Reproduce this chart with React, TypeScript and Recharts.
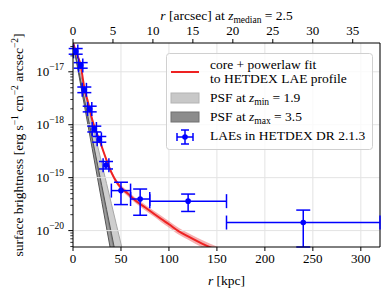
import React from "react";
import {
  ComposedChart,
  Line,
  Area,
  Scatter,
  ErrorBar,
  XAxis,
  YAxis,
  CartesianGrid,
  ReferenceLine,
} from "recharts";

const W = 390;
const H = 298;
const FONT = "'Liberation Serif', 'DejaVu Serif', serif";

// core + powerlaw fit, log10 of surface brightness, and half width of its band (dex)
const fitR = [0, 3, 6, 8, 10, 12, 15, 17.5, 20, 22, 25, 28, 32, 36, 40, 45, 50, 57, 65, 75, 85, 92, 100, 110, 120, 135, 150, 160];
const fitLogSB = [-16.45, -16.62, -16.76, -16.88, -17.1, -17.33, -17.53, -17.71, -17.9, -18.02, -18.17, -18.31, -18.52, -18.72, -18.9, -19.07, -19.19, -19.3, -19.43, -19.56, -19.69, -19.78, -19.88, -20.01, -20.11, -20.25, -20.37, -20.45];
const fitBand = [0.01, 0.01, 0.01, 0.015, 0.015, 0.02, 0.02, 0.02, 0.025, 0.025, 0.03, 0.03, 0.035, 0.035, 0.04, 0.04, 0.045, 0.05, 0.05, 0.055, 0.055, 0.06, 0.06, 0.065, 0.065, 0.07, 0.07, 0.07];

// PSF bands (log10 SB) at z_min = 1.9 and z_max = 3.5
const psfR = [0, 5, 10, 15, 20, 25, 30, 35, 40, 45, 50, 55];
const psfMinLo = [-16.45, -16.91, -17.37, -17.83, -18.29, -18.75, -19.21, -19.67, -20.13, -20.59, -21.05, -21.51];
const psfMinHi = [-16.45, -16.83, -17.21, -17.59, -17.97, -18.35, -18.73, -19.11, -19.49, -19.87, -20.25, -20.63];
const psfMaxLo = [-16.45, -16.95, -17.45, -17.95, -18.45, -18.95, -19.45, -19.95, -20.45, -20.95, -21.45, -21.95];
const psfMaxHi = [-16.45, -16.9, -17.35, -17.8, -18.25, -18.7, -19.15, -19.6, -20.05, -20.5, -20.95, -21.4];

// LAEs in HETDEX DR 2.1.3
const laeR = [2.8, 8, 11.8, 17.4, 22.2, 27.4, 34.4, 50, 70, 120, 240];
const laeRErr = [2.2, 2.2, 2.2, 2.2, 2.2, 2.2, 3, 10, 10, 40, 80];
const laeSB = [2.43e-17, 1.32e-17, 4.56e-18, 1.98e-18, 8.3e-19, 5.3e-19, 1.72e-19, 5.7e-20, 3.95e-20, 3.6e-20, 1.42e-20];
const laeSBLo = [2.8e-18, 1.5e-18, 5.2e-19, 2.3e-19, 1.0e-19, 6.2e-20, 2.6e-20, 2.6e-20, 2.0e-20, 1.3e-20, 9.3e-21];
const laeSBHi = [3.2e-18, 1.7e-18, 6.0e-19, 2.6e-19, 1.1e-19, 7.0e-20, 3.0e-20, 2.5e-20, 2.15e-20, 1.3e-20, 1.02e-20];

const xTicks = [0, 50, 100, 150, 200, 250, 300];
const arcsecTicks = [0, 5, 10, 15, 20, 25, 30, 35];
const kpcPerArcsec = 8.33;
const yMajor = [1e-20, 1e-19, 1e-18, 1e-17];
const yMinorMult = [2, 3, 4, 5, 6, 7, 8, 9];
const yDomain: [number, number] = [4.9e-21, 3.5e-17];

const pow10 = (v: number) => Math.pow(10, v);

const fitData = fitR.map((r, i) => ({
  r,
  sb: pow10(fitLogSB[i]),
  band: [pow10(fitLogSB[i] - fitBand[i]), pow10(fitLogSB[i] + fitBand[i])],
}));
// same fit on the arcsec scale, only so the top axis is drawn
const fitArcsec = fitData.map((d) => ({ r: d.r / kpcPerArcsec, sb: d.sb }));
const psfData = psfR.map((r, i) => ({
  r,
  zmin: [pow10(psfMinLo[i]), pow10(psfMinHi[i])],
  zmax: [pow10(psfMaxLo[i]), pow10(psfMaxHi[i])],
}));
const laeData = laeR.map((r, i) => ({
  r,
  sb: laeSB[i],
  rErr: laeRErr[i],
  sbErr: [laeSBLo[i], laeSBHi[i]],
}));

const yTicks = [
  ...yMajor,
  ...[1e-21, ...yMajor].flatMap((d) => yMinorMult.map((m) => m * d)),
].filter((v) => v >= yDomain[0] && v <= yDomain[1]);

const YTick = ({ x, y, payload }: any) => {
  const e = Math.log10(payload.value);
  const major = Math.abs(e - Math.round(e)) < 1e-6;
  const len = major ? 4.7 : 2.7;
  return (
    <g>
      <line x1={x - len} x2={x} y1={y} y2={y} stroke="#000" strokeWidth={major ? 1 : 0.8} />
      {major && (
        <text x={x - 9} y={y + 4.5} textAnchor="end" style={{ fontFamily: FONT }} fontSize={13} fill="#000">
          10
          <tspan dy={-6} fontSize={9.5}>
            {"\u2212" + -Math.round(e)}
          </tspan>
        </text>
      )}
    </g>
  );
};

const BottomTick = ({ x, y, payload }: any) => (
  <text x={x} y={y + 10} textAnchor="middle" style={{ fontFamily: FONT }} fontSize={13} fill="#000">
    {payload.value}
  </text>
);

const TopTick = ({ x, y, payload }: any) => (
  <text x={x} y={y} textAnchor="middle" style={{ fontFamily: FONT }} fontSize={13} fill="#000">
    {payload.value}
  </text>
);

const BottomLabel = ({ viewBox }: any) => (
  <text x={viewBox.x + viewBox.width / 2} y={viewBox.y + 38} textAnchor="middle" style={{ fontFamily: FONT }} fontSize={13.5} fill="#000">
    <tspan fontStyle="italic">r</tspan> [kpc]
  </text>
);

const TopLabel = ({ viewBox }: any) => (
  <text x={viewBox.x + viewBox.width / 2} y={viewBox.y + 19.5} textAnchor="middle" style={{ fontFamily: FONT }} fontSize={13.5} fill="#000">
    <tspan fontStyle="italic">r</tspan> [arcsec] at <tspan fontStyle="italic">z</tspan>
    <tspan dy={3} fontSize={9.5}>median</tspan>
    <tspan dy={-3}> = 2.5</tspan>
  </text>
);

const YLabel = ({ viewBox }: any) => {
  const cx = viewBox.x + 22.5;
  const cy = viewBox.y + viewBox.height / 2;
  return (
    <text x={cx} y={cy} transform={`rotate(-90 ${cx} ${cy})`} textAnchor="middle" style={{ fontFamily: FONT }} fontSize={13.5} fill="#000">
      surface brightness [erg s
      <tspan dy={-5} fontSize={9.5}>{"\u22121"}</tspan>
      <tspan dy={5}> cm</tspan>
      <tspan dy={-5} fontSize={9.5}>{"\u22122"}</tspan>
      <tspan dy={5}> arcsec</tspan>
      <tspan dy={-5} fontSize={9.5}>{"\u22122"}</tspan>
      <tspan dy={5}>]</tspan>
    </text>
  );
};

const LaeDot = (p: any) => <circle cx={p.cx} cy={p.cy} r={2.8} fill="#0000ff" />;

const Legend = () => (
  <svg width={W} height={H} style={{ position: "absolute", left: 0, top: 0, pointerEvents: "none" }}>
    <rect x={166.5} y={53.5} width={206} height={96} rx={3} fill="#fff" fillOpacity={0.8} stroke="#d0d0d0" />
    <line x1={171} x2={199} y1={72} y2={72} stroke="#ee2222" strokeWidth={2} />
    <rect x={171} y={93} width={28} height={10} fill="#c8c8c8" stroke="#b4b4b4" />
    <rect x={171} y={112} width={28} height={10} fill="#8c8c8c" stroke="#707070" />
    <g stroke="#0000ff" strokeWidth={1.5}>
      <line x1={177} x2={193} y1={137} y2={137} />
      <line x1={177} x2={177} y1={133} y2={141} />
      <line x1={193} x2={193} y1={133} y2={141} />
      <line x1={185} x2={185} y1={130} y2={144} />
      <line x1={181} x2={189} y1={130} y2={130} />
      <line x1={181} x2={189} y1={144} y2={144} />
    </g>
    <circle cx={185} cy={137} r={2.8} fill="#0000ff" />
    <g style={{ fontFamily: FONT }} fontSize={13.5} fill="#000">
      <text x={210} y={69}>core + powerlaw fit</text>
      <text x={210} y={83}>to HETDEX LAE profile</text>
      <text x={210} y={102}>
        PSF at <tspan fontStyle="italic">z</tspan>
        <tspan dy={3} fontSize={9.5}>min</tspan>
        <tspan dy={-3}> = 1.9</tspan>
      </text>
      <text x={210} y={121}>
        PSF at <tspan fontStyle="italic">z</tspan>
        <tspan dy={3} fontSize={9.5}>max</tspan>
        <tspan dy={-3}> = 3.5</tspan>
      </text>
      <text x={210} y={140}>LAEs in HETDEX DR 2.1.3</text>
    </g>
  </svg>
);

export default function App() {
  return (
    <div style={{ position: "absolute", left: 0, top: 0, width: W, height: H, background: "#fff" }}>
      <ComposedChart width={W} height={H} margin={{ top: 0, right: 10, bottom: 0, left: 0 }}>
        <CartesianGrid horizontal={false} stroke="#e3e3e3" strokeWidth={1} />
        {yMajor.map((v) => (
          <ReferenceLine key={v} y={v} stroke="#e3e3e3" strokeWidth={1} />
        ))}
        <XAxis
          dataKey="r"
          type="number"
          domain={[0, 320]}
          ticks={xTicks}
          interval={0}
          allowDataOverflow
          height={51}
          tickSize={4}
          tickMargin={2}
          tick={<BottomTick />}
          tickLine={{ stroke: "#000" }}
          axisLine={{ stroke: "#000" }}
          label={<BottomLabel />}
        />
        <XAxis
          xAxisId="top"
          dataKey="r"
          orientation="top"
          type="number"
          domain={[0, 320 / kpcPerArcsec]}
          ticks={arcsecTicks}
          interval={0}
          allowDataOverflow
          height={43}
          tickSize={4}
          tickMargin={4}
          tick={<TopTick />}
          tickLine={{ stroke: "#000" }}
          axisLine={{ stroke: "#000" }}
          label={<TopLabel />}
        />
        <YAxis
          type="number"
          scale="log"
          domain={yDomain}
          ticks={yTicks}
          interval={0}
          allowDataOverflow
          width={73}
          tickSize={0}
          tickMargin={0}
          tick={<YTick />}
          tickLine={false}
          axisLine={{ stroke: "#000" }}
          label={<YLabel />}
        />
        <ReferenceLine x={320} stroke="#000" />
        <Line
          xAxisId="top"
          data={fitArcsec}
          dataKey="sb"
          stroke="none"
          dot={false}
          activeDot={false}
          isAnimationActive={false}
        />
        <Area
          data={psfData}
          dataKey="zmin"
          type="monotone"
          fill="#bdbdbd"
          fillOpacity={0.75}
          stroke="#a8a8a8"
          strokeWidth={1}
          isAnimationActive={false}
        />
        <Area
          data={psfData}
          dataKey="zmax"
          type="monotone"
          fill="#7a7a7a"
          fillOpacity={0.75}
          stroke="#555"
          strokeWidth={1}
          isAnimationActive={false}
        />
        <Area
          data={fitData}
          dataKey="band"
          type="monotone"
          fill="#e41a1c"
          fillOpacity={0.35}
          stroke="none"
          isAnimationActive={false}
        />
        <Line
          data={fitData}
          dataKey="sb"
          type="monotone"
          stroke="#ee2222"
          strokeWidth={2}
          dot={false}
          isAnimationActive={false}
        />
        <Scatter data={laeData} dataKey="sb" shape={<LaeDot />} isAnimationActive={false}>
          <ErrorBar dataKey="rErr" direction="x" width={7} stroke="#0000ff" strokeWidth={1.5} />
          <ErrorBar dataKey="sbErr" direction="y" width={7} stroke="#0000ff" strokeWidth={1.5} />
        </Scatter>
      </ComposedChart>
      <Legend />
    </div>
  );
}
